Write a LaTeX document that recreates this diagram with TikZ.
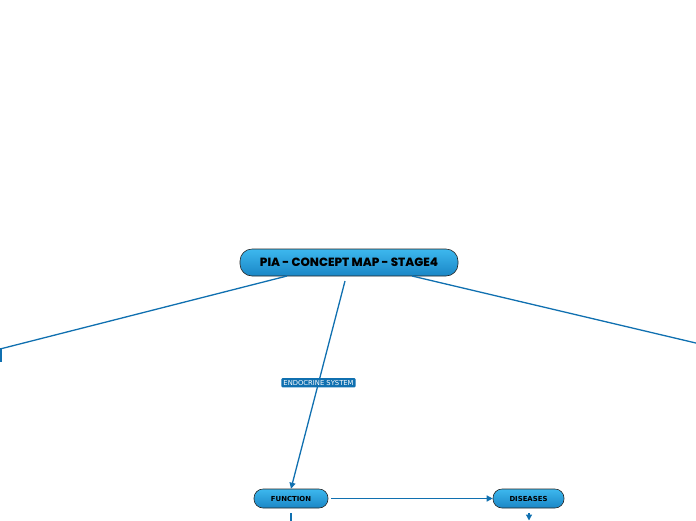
\documentclass[tikz,border=0pt]{standalone}
\usepackage{fontspec}
\setmainfont{DejaVu Sans}
\newfontfamily\titlefont{Poppins}[UprightFont=* ExtraBold]
\usetikzlibrary{arrows.meta,shadings}
\definecolor{linkblue}{HTML}{1070B0}
\definecolor{topblue}{HTML}{3DB8EE}
\definecolor{botblue}{HTML}{1A86C6}
\tikzset{
  bubble/.style={draw=black!85, line width=0.6pt, rounded corners=#1, top color=topblue, bottom color=botblue, inner sep=0pt},
  conn/.style={draw=linkblue, line width=1.3pt},
  tip/.style={-{Triangle[width=6pt,length=6pt]}},
  lbl/.style={fill=linkblue, text=white, font=\fontsize{6.8}{7.5}\selectfont, inner xsep=2pt, inner ysep=2pt, rounded corners=1pt}
}
\begin{document}
\begin{tikzpicture}[x=1pt,y=-1pt]
\useasboundingbox (0,0) rectangle (696,520);
\clip (0,0) rectangle (696,520);
\node[bubble=12pt, minimum width=218pt, minimum height=27pt, font=\titlefont\fontsize{11.9}{13}\selectfont] (main) at (349,262.5) {PIA - CONCEPT MAP - STAGE4};
\node[bubble=9pt, minimum width=74pt, minimum height=19pt, font=\bfseries\fontsize{6.9}{8}\selectfont] (func) at (291,498.5) {FUNCTION};
\node[bubble=9pt, minimum width=71pt, minimum height=19pt, font=\bfseries\fontsize{6.9}{8}\selectfont] (dis) at (528.5,498.5) {DISEASES};
\coordinate (m1) at (345,281);
\coordinate (mL) at (287,276);
\coordinate (mR) at (412,276);
\coordinate (leftend) at (-9,351.3);
\coordinate (rightend) at (720,348.7);
\coordinate (f1) at (331,498.5);
\coordinate (fb1) at (291,513);
\coordinate (fb2) at (291,530);
\coordinate (d1) at (529,513);
\coordinate (d2) at (529,520.5);
\draw[conn] (mL) -- (leftend);
\draw[conn, line width=1.6pt] (0.8,348) -- (0.8,362);
\draw[conn] (mR) -- (rightend);
\draw[conn, tip] (m1) -- (func.north) node[pos=0.49, lbl] (endo) {ENDOCRINE SYSTEM};
\draw[conn, tip] (f1) -- (dis.west);
\draw[conn] (fb1) -- (fb2);
\draw[conn, tip] (d1) -- (d2);
\end{tikzpicture}
\end{document}
